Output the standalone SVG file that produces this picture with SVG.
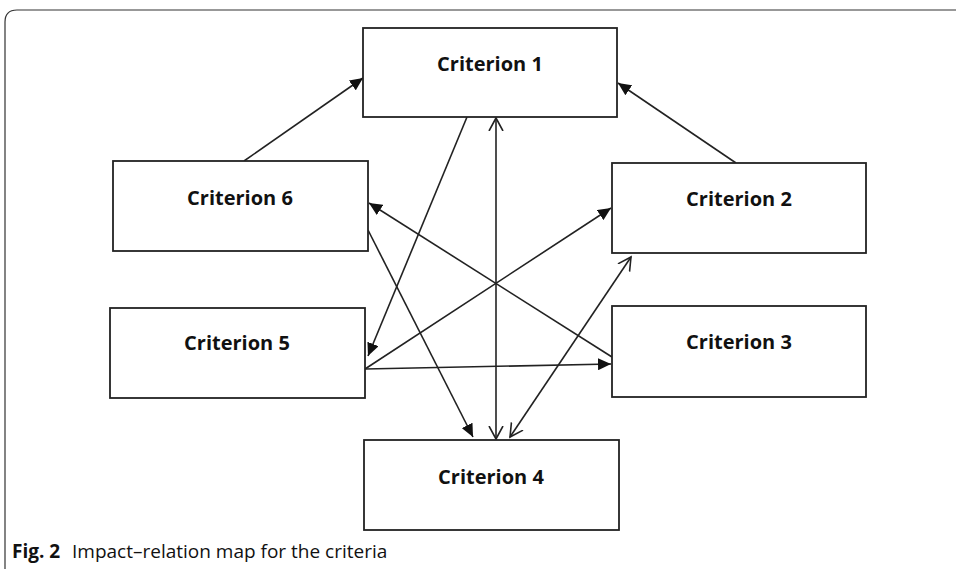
<svg xmlns="http://www.w3.org/2000/svg" width="956" height="569" viewBox="0 0 956 569">
<style>
.box{fill:#fff;stroke:#222;stroke-width:1.8}
.lbl{font-family:"Open Sans","Liberation Sans",sans-serif;font-weight:bold;font-size:20px;fill:#111;text-anchor:middle}
.ln{stroke:#222;stroke-width:1.6;fill:none}
.cap{font-family:"Open Sans","Liberation Sans",sans-serif;font-size:19px;fill:#111}
</style>
<defs>
<marker id="fa" markerUnits="userSpaceOnUse" markerWidth="14" markerHeight="12" refX="13" refY="6" orient="auto">
<path d="M0,0 L13,6 L0,12 z" fill="#111"/>
</marker>
<marker id="oa" markerUnits="userSpaceOnUse" markerWidth="16" markerHeight="16" refX="13" refY="8" orient="auto-start-reverse">
<path d="M0,1 L13,8 L0,15" fill="none" stroke="#222" stroke-width="1.6"/>
</marker>
</defs>
<rect width="956" height="569" fill="#fff"/>
<path d="M5,569 L5,22 Q5,10 17,10 L956,10" fill="none" stroke="#333" stroke-width="1.2"/>
<g id="connectors">
<path class="ln" d="M244,161 L363,78" marker-end="url(#fa)"/>
<path class="ln" d="M736,163 L618,83" marker-end="url(#fa)"/>
<path class="ln" d="M467,117 L368,356" marker-end="url(#fa)"/>
<path class="ln" d="M496,118 L496,439" marker-start="url(#oa)" marker-end="url(#oa)"/>
<path class="ln" d="M612,357 L369,203" marker-end="url(#fa)"/>
<path class="ln" d="M368,230 L473,437" marker-end="url(#fa)"/>
<path class="ln" d="M365,369 L611,208" marker-end="url(#fa)"/>
<path class="ln" d="M365,369 L611,364" marker-end="url(#fa)"/>
<path class="ln" d="M631,257 L510,437" marker-start="url(#oa)" marker-end="url(#oa)"/>
</g>
<g id="criterion1"><rect class="box" x="363" y="28" width="254" height="89"/><text class="lbl" x="490" y="71">Criterion 1</text></g>
<g id="criterion2"><rect class="box" x="612" y="163" width="254" height="90"/><text class="lbl" x="739" y="206">Criterion 2</text></g>
<g id="criterion3"><rect class="box" x="612" y="306" width="254" height="91"/><text class="lbl" x="739" y="349">Criterion 3</text></g>
<g id="criterion4"><rect class="box" x="364" y="440" width="255" height="90"/><text class="lbl" x="491" y="484">Criterion 4</text></g>
<g id="criterion5"><rect class="box" x="110" y="308" width="255" height="90"/><text class="lbl" x="237" y="350">Criterion 5</text></g>
<g id="criterion6"><rect class="box" x="113" y="161" width="255" height="90"/><text class="lbl" x="240" y="205">Criterion 6</text></g>
<text class="cap" x="12" y="558"><tspan font-weight="bold">Fig. 2</tspan><tspan x="72">Impact–relation map for the criteria</tspan></text>
</svg>
